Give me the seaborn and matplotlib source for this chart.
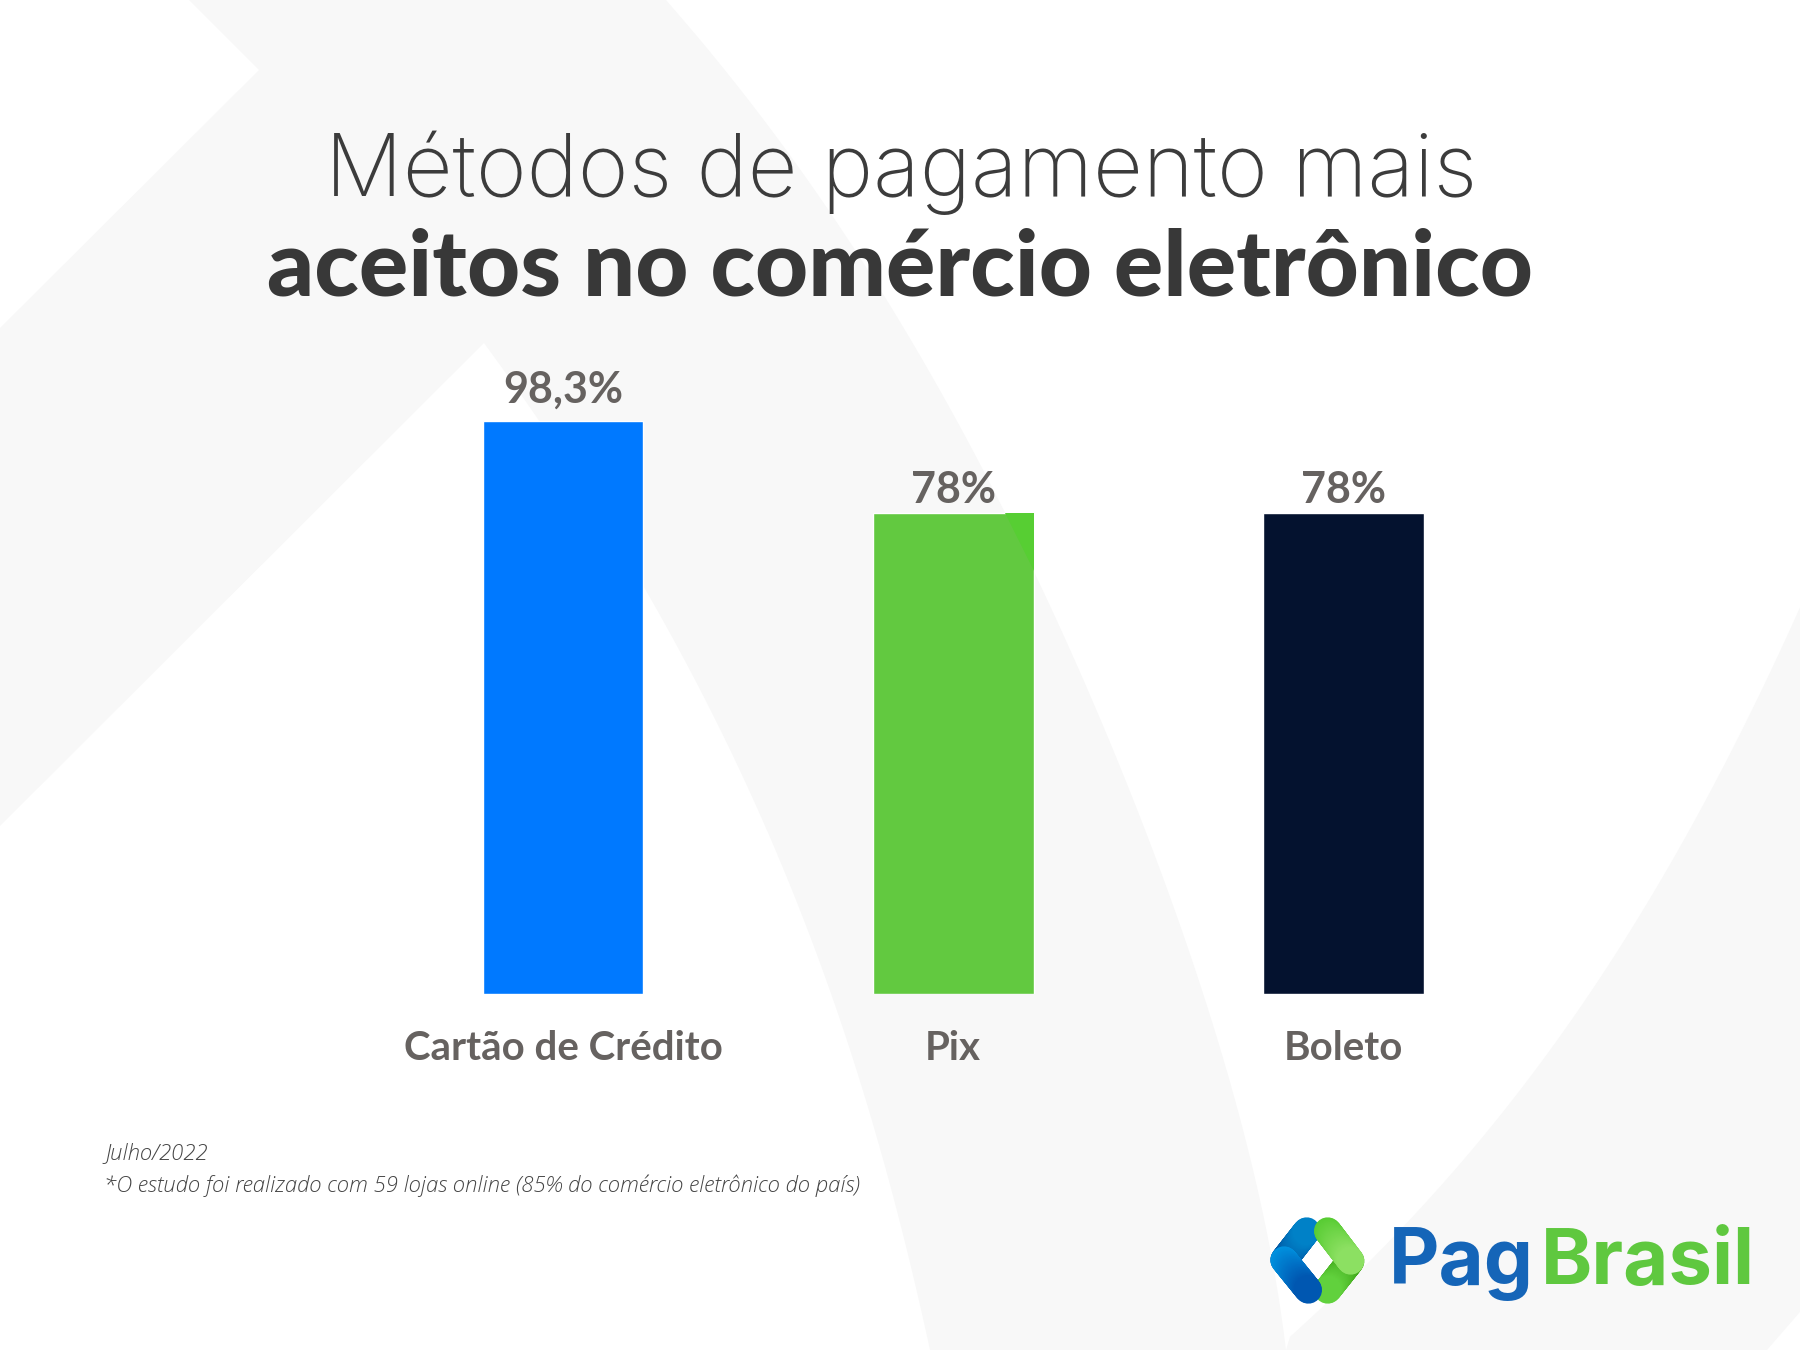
import numpy as np
import pandas as pd
import seaborn as sns
import matplotlib.pyplot as plt
from matplotlib.patches import Polygon
from matplotlib.colors import to_rgb

metodos = ['Cartão de Crédito', 'Pix', 'Boleto']
# the drawn bars are not to scale with their labels: the 78% bars stand at about 82.5
alturas = [98.3, 82.5, 82.5]
rotulos = ['98,3%', '78%', '78%']
cores = ['#0079FF', '#62C940', '#04122F']

sns.set_theme(style='white')
plt.rcParams['font.family'] = ['Lato', 'DejaVu Sans']

df = pd.DataFrame({'metodo': metodos, 'altura': alturas})

W, H = 1800, 1350
fig = plt.figure(figsize=(18, 13.5), dpi=100, facecolor='white')

# background, in pixel coordinates
bg = fig.add_axes([0, 0, 1, 1])
bg.set_xlim(0, W)
bg.set_ylim(H, 0)
bg.axis('off')

GRAY = '#F8F8F8'


def curve(points, n=80):
    pts = np.array(points, dtype=float)
    ys = np.linspace(pts[0, 1], pts[-1, 1], n)
    xs = np.polyval(np.polyfit(pts[:, 1], pts[:, 0], 4), ys)
    xs[0], xs[-1] = pts[0, 0], pts[-1, 0]
    return np.column_stack([xs, ys])


curve1 = curve([(484, 343), (643, 586), (712, 712), (822, 970), (860, 1080), (930, 1350)])
curve2 = curve([(666, 0), (800, 170), (900, 320), (993, 490), (1033, 570),
                (1196, 970), (1229, 1080), (1286, 1350)])

left_shape = np.vstack([[(189, 0), (259, 70), (0, 328), (0, 826)], curve1, curve2[::-1]])
bg.add_patch(Polygon(left_shape, closed=True, fc=GRAY, ec='none'))

right_pts = np.array([(1290, 1337), (1445, 1180), (1600, 980), (1710, 790), (1800, 608)], dtype=float)
xs = np.linspace(1290, 1800, 80)
ys = np.polyval(np.polyfit(right_pts[:, 0], right_pts[:, 1], 3), xs)
right_shape = np.vstack([np.column_stack([xs, ys]), [(1800, 1312), (1767, 1350), (1286, 1350)]])
bg.add_patch(Polygon(right_shape, closed=True, fc=GRAY, ec='none'))

# title
bg.text(901, 196, 'Métodos de pagamento mais', ha='center', va='baseline',
        fontsize=62.3, fontweight='light', family='Inter', color='#3C3C3C')
bg.text(900, 296, 'aceitos no comércio eletrônico', ha='center', va='baseline',
        fontsize=66.4, fontweight='black', color='#383838')

# footer
bg.text(105, 1159, 'Julho/2022', fontsize=15.9, fontweight='light', style='italic',
        family='Open Sans', color='#444444')
bg.text(104, 1192, '*O estudo foi realizado com 59 lojas online (85% do comércio eletrônico do país)',
        fontsize=15.9, fontweight='light', style='italic', family='Open Sans', color='#444444')


# logo
def band(points, c0, c1, n=50):
    a, b = np.array(points[0], float), np.array(points[1], float)
    c0, c1 = np.array(to_rgb(c0)), np.array(to_rgb(c1))
    for t0, t1 in zip(np.linspace(0, 1, n)[:-1], np.linspace(0, 1, n)[1:]):
        p, q = a + (b - a) * t0, a + (b - a) * t1
        bg.plot([p[0], q[0]], [p[1], q[1]], color=c0 + (c1 - c0) * t0, lw=19.7,
                solid_capstyle='round')


def lz(x, y):
    return (1260 + x / 3, 1205 + y / 3)


band([lz(272, 168), lz(203, 255)], '#379C10', '#62D23E')
band([lz(72, 165), lz(140, 78)], '#004E9C', '#0082C8')
band([lz(203, 78), lz(272, 168)], '#58CC33', '#8DE063')
band([lz(72, 165), lz(145, 255)], '#0092E0', '#0056B0')

bg.text(1389, 1284, 'Pag', fontsize=56, fontweight='bold', family='Inter', color='#1565B8',
        ha='left', va='baseline')
bg.text(1541, 1284, 'Brasil', fontsize=56, fontweight='bold', family='Inter', color='#5FC83F',
        ha='left', va='baseline')

# bars
ax = fig.add_axes([368 / W, (H - 994) / H, 1170.5 / W, 582.9 / H], zorder=2)
ax.patch.set_alpha(0)
sns.barplot(df, x='metodo', y='altura', hue='metodo', palette=cores, order=metodos,
            width=0.412, saturation=1, legend=False, ax=ax)
ax.set_xlim(-0.5, 2.5)
ax.set_ylim(0, 100)
ax.set_xlabel('')
ax.set_ylabel('')
ax.set_yticks([])
sns.despine(ax=ax, left=True, bottom=True)
ax.tick_params(axis='x', length=0, pad=26.2, labelsize=29, labelcolor='#666260')
for t in ax.get_xticklabels():
    t.set_fontweight('bold')

for container, rotulo, pad in zip(ax.containers, rotulos, [8.5, 2.2, 2.2]):
    ax.bar_label(container, labels=[rotulo], padding=pad, fontsize=31, fontweight='bold',
                 color='#666260')

# the green bar turns a little stronger where the background is white
box = ax.containers[1][0].get_window_extent()
top = H - box.y1
tint = Polygon([(np.interp(top, curve2[:, 1], curve2[:, 0]), top), (box.x1, top),
                (box.x1, np.interp(box.x1, curve2[:, 0], curve2[:, 1]))],
               closed=True, fc='#57CE33', ec='none', transform=bg.transData, zorder=3)
ax.add_patch(tint)

fig.savefig('out.png', dpi=100)
